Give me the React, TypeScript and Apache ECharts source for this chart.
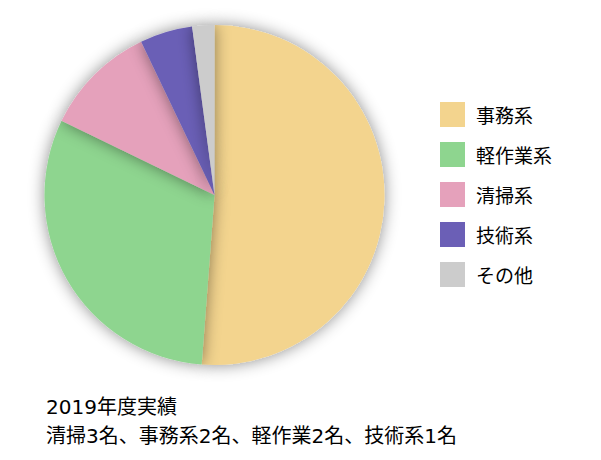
import React, { useEffect, useRef } from "react";
import * as echarts from "echarts";

const categories = ["事務系", "軽作業系", "清掃系", "技術系", "その他"];
const shares = [51.2, 31.0, 10.7, 5.0, 2.1];
const colors = ["#F3D48E", "#8ED58F", "#E5A1BB", "#6B5FB6", "#CCCCCC"];
const captionLines = ["2019年度実績", "清掃3名、事務系2名、軽作業2名、技術系1名"];

const FONT = "'Noto Sans CJK JP', 'Noto Sans', sans-serif";
const CAPTION_FONT = "'DejaVu Sans', 'Noto Sans CJK JP', sans-serif";

export default function App() {
  const ref = useRef<HTMLDivElement>(null);
  useEffect(() => {
    if (!ref.current) return;
    const chart = echarts.init(ref.current, null, { renderer: "svg" });
    chart.setOption({
      animation: false,
      backgroundColor: "#ffffff",
      color: colors,
      legend: {
        orient: "vertical",
        left: 440,
        top: 102,
        padding: 0,
        itemWidth: 25,
        itemHeight: 25,
        itemGap: 15,
        icon: "rect",
        textStyle: {
          fontFamily: FONT,
          fontSize: 19,
          color: "#000",
          padding: [0, 0, 0, 6],
        },
        data: categories,
      },
      graphic: captionLines.map((t, i) => ({
        type: "text",
        left: 46,
        top: 397 + i * 29,
        style: {
          text: t,
          fontFamily: CAPTION_FONT,
          fontSize: 20,
          fill: "#000",
        },
      })),
      series: [
        {
          type: "pie",
          center: [214.5, 195],
          radius: 170,
          startAngle: 90,
          clockwise: true,
          label: { show: false },
          labelLine: { show: false },
          emphasis: { disabled: true },
          itemStyle: {
            shadowBlur: 16,
            shadowColor: "rgba(0,0,0,0.45)",
            shadowOffsetX: 0,
            shadowOffsetY: 0,
          },
          data: categories.map((name, i) => ({ name, value: shares[i] })),
        },
      ],
    });
    return () => chart.dispose();
  }, []);
  return (
    <div
      ref={ref}
      style={{ position: "fixed", left: 0, top: 0, width: 601, height: 460 }}
    />
  );
}
